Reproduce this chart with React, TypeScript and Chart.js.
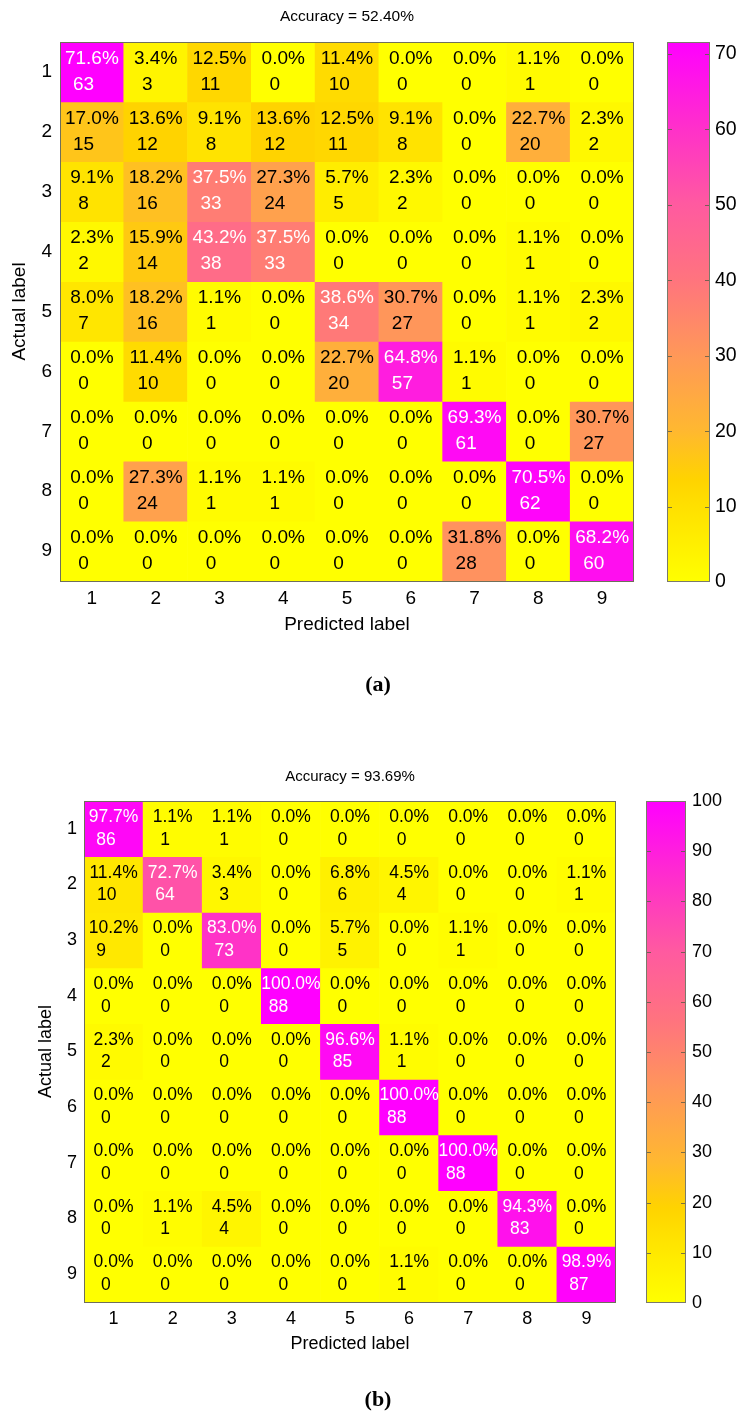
import React, { useEffect, useRef } from 'react';
import { Chart, registerables } from 'chart.js';

Chart.register(...registerables);

// ---------------- data ----------------
const classLabels = ['1', '2', '3', '4', '5', '6', '7', '8', '9'];

// rows = actual label, columns = predicted label (sample counts)
const countsA: number[][] = [
  [63, 3, 11, 0, 10, 0, 0, 1, 0],
  [15, 12, 8, 12, 11, 8, 0, 20, 2],
  [8, 16, 33, 24, 5, 2, 0, 0, 0],
  [2, 14, 38, 33, 0, 0, 0, 1, 0],
  [7, 16, 1, 0, 34, 27, 0, 1, 2],
  [0, 10, 0, 0, 20, 57, 1, 0, 0],
  [0, 0, 0, 0, 0, 0, 61, 0, 27],
  [0, 24, 1, 1, 0, 0, 0, 62, 0],
  [0, 0, 0, 0, 0, 0, 28, 0, 60],
];

const countsB: number[][] = [
  [86, 1, 1, 0, 0, 0, 0, 0, 0],
  [10, 64, 3, 0, 6, 4, 0, 0, 1],
  [9, 0, 73, 0, 5, 0, 1, 0, 0],
  [0, 0, 0, 88, 0, 0, 0, 0, 0],
  [2, 0, 0, 0, 85, 1, 0, 0, 0],
  [0, 0, 0, 0, 0, 88, 0, 0, 0],
  [0, 0, 0, 0, 0, 0, 88, 0, 0],
  [0, 1, 4, 0, 0, 0, 0, 83, 0],
  [0, 0, 0, 0, 0, 1, 0, 0, 87],
];

const titleA = 'Accuracy = 52.40%';
const titleB = 'Accuracy = 93.69%';
const colorbarTicksA = [0, 10, 20, 30, 40, 50, 60, 70];
const colorbarTicksB = [0, 10, 20, 30, 40, 50, 60, 70, 80, 90, 100];
const xTitle = 'Predicted label';
const yTitle = 'Actual label';

// ---------------- colour map ----------------
const cmapStops: [number, number[]][] = [
  [0, [255, 255, 0]],
  [0.14, [255, 224, 0]],
  [0.19, [255, 211, 0]],
  [0.28, [255, 184, 48]],
  [0.42, [255, 152, 88]],
  [0.56, [255, 116, 126]],
  [0.7, [255, 90, 160]],
  [0.84, [255, 48, 202]],
  [1, [255, 0, 255]],
];

function colormap(t: number): string {
  const v = Math.max(0, Math.min(1, t));
  for (let i = 1; i < cmapStops.length; i++) {
    const [t1, c1] = cmapStops[i];
    const [t0, c0] = cmapStops[i - 1];
    if (v <= t1) {
      const f = (v - t0) / (t1 - t0);
      const c = c0.map((x, k) => Math.round(x + (c1[k] - x) * f));
      return `rgb(${c[0]},${c[1]},${c[2]})`;
    }
  }
  return 'rgb(255,0,255)';
}

const SANS = "'Liberation Sans', Arial, sans-serif";

function toPercents(counts: number[][]) {
  return counts.map((row) => {
    const s = row.reduce((a, b) => a + b, 0);
    return row.map((v) => (v / s) * 100);
  });
}

type Geo = {
  left: number; top: number; width: number; height: number;
  padTop: number; padRight: number; yAxisW: number; xAxisH: number;
  tickFont: number; cellFont: number; pctOff: number; cntOff: number; cntShift: number;
  titleFont: number; titleY: number; axisFont: number; xTitleY: number; yTitleX: number;
  caption: string; captionX: number; captionY: number; xPad: number; yPad: number;
};

function Heatmap({ counts, title, g }: { counts: number[][]; title: string; g: Geo }) {
  const ref = useRef<HTMLCanvasElement>(null);
  useEffect(() => {
    const pcts = toPercents(counts);
    const maxPct = Math.max(...pcts.flat());
    const datasets = counts.map((row, r) => ({
      label: classLabels[r],
      data: row.map(() => [r + 0.5, r + 1.5]),
      backgroundColor: pcts[r].map((p) => colormap(p / maxPct)),
      borderWidth: 0,
      grouped: false,
      barPercentage: 1,
      categoryPercentage: 1,
    }));

    const textPlugin = {
      id: 'cellText',
      afterDatasetsDraw(chart: any) {
        const c = chart.ctx;
        const ca = chart.chartArea;
        c.save();
        c.font = `${g.cellFont}px ${SANS}`;
        c.textBaseline = 'middle';
        chart.data.datasets.forEach((_: any, r: number) => {
          const meta = chart.getDatasetMeta(r);
          meta.data.forEach((el: any, col: number) => {
            const p = pcts[r][col];
            const cy = (el.y + el.base) / 2;
            const pctText = p.toFixed(1) + '%';
            c.fillStyle = p / maxPct > 0.5 ? '#ffffff' : '#000000';
            const w = c.measureText(pctText).width;
            c.textAlign = 'left';
            c.fillText(pctText, el.x - w / 2, cy - g.pctOff);
            c.fillText(String(counts[r][col]), el.x - w / 2 + g.cntShift, cy + g.cntOff);
          });
        });
        // plot border
        c.strokeStyle = '#6f6f5a';
        c.lineWidth = 1;
        c.strokeRect(Math.round(ca.left) + 0.5, Math.round(ca.top) + 0.5, Math.round(ca.right - ca.left) - 1, Math.round(ca.bottom - ca.top));
        // title
        c.fillStyle = '#000';
        c.textAlign = 'center';
        c.font = `${g.titleFont}px ${SANS}`;
        c.fillText(title, (ca.left + ca.right) / 2, g.titleY);
        // axis titles
        c.font = `${g.axisFont}px ${SANS}`;
        c.fillText(xTitle, (ca.left + ca.right) / 2, g.xTitleY);
        c.save();
        c.translate(g.yTitleX, (ca.top + ca.bottom) / 2);
        c.rotate(-Math.PI / 2);
        c.fillText(yTitle, 0, 0);
        c.restore();
        // caption
        c.font = `bold 22px 'Liberation Serif', 'Times New Roman', serif`;
        c.fillText(g.caption, g.captionX, g.captionY);
        c.restore();
      },
    };

    const tickFont = { family: SANS, size: g.tickFont };
    const chart = new Chart(ref.current as HTMLCanvasElement, {
      type: 'bar',
      data: { labels: classLabels, datasets: datasets as any },
      options: {
        animation: false,
        responsive: false,
        devicePixelRatio: 1,
        layout: { padding: { left: 0, top: g.padTop, right: g.padRight, bottom: 0 } },
        plugins: { legend: { display: false }, tooltip: { enabled: false }, title: { display: false } },
        scales: {
          x: {
            type: 'category',
            offset: true,
            grid: { display: false, drawTicks: false },
            border: { display: false },
            ticks: { font: tickFont, color: '#000', padding: g.xPad, maxRotation: 0 },
            afterFit: (s: any) => { s.height = g.xAxisH; },
          },
          y: {
            type: 'linear',
            reverse: true,
            min: 0.5,
            max: 9.5,
            grid: { display: false, drawTicks: false },
            border: { display: false },
            afterBuildTicks: (s: any) => { s.ticks = classLabels.map((_, i) => ({ value: i + 1 })); },
            ticks: {
              font: tickFont,
              color: '#000',
              padding: g.yPad,
              callback: (v: any) => classLabels[Number(v) - 1],
            },
            afterFit: (s: any) => { s.width = g.yAxisW; },
          },
        },
      } as any,
      plugins: [textPlugin],
    });
    return () => chart.destroy();
  }, []);
  return (
    <canvas
      ref={ref}
      width={g.width}
      height={g.height}
      style={{ position: 'absolute', left: g.left, top: g.top, width: g.width, height: g.height }}
    />
  );
}

type CbGeo = {
  left: number; top: number; width: number; height: number;
  padLeft: number; padTop: number; padBottom: number; axisW: number; font: number; pad: number;
};

function Colorbar({ counts, ticksList, g }: { counts: number[][]; ticksList: number[]; g: CbGeo }) {
  const ref = useRef<HTMLCanvasElement>(null);
  useEffect(() => {
    const maxPct = Math.max(...toPercents(counts).flat());
    const tickPlugin = {
      id: 'cbTicks',
      afterDatasetsDraw(chart: any) {
        const c = chart.ctx;
        const ca = chart.chartArea;
        const ys = chart.scales.y;
        c.save();
        c.strokeStyle = 'rgba(90,90,70,0.8)';
        c.lineWidth = 1;
        ticksList.forEach((v) => {
          if (v === 0) return;
          const y = Math.round(ys.getPixelForValue(v)) + 0.5;
          c.beginPath();
          c.moveTo(ca.left, y);
          c.lineTo(ca.left + 5, y);
          c.moveTo(ca.right - 5, y);
          c.lineTo(ca.right, y);
          c.stroke();
        });
        c.strokeStyle = '#7a7a6a';
        c.strokeRect(Math.round(ca.left) + 0.5, Math.round(ca.top) + 0.5, Math.round(ca.right - ca.left) - 1, Math.round(ca.bottom - ca.top) - 1);
        c.restore();
      },
    };
    const chart = new Chart(ref.current as HTMLCanvasElement, {
      type: 'bar',
      data: {
        labels: ['scale'],
        datasets: [
          {
            data: [[0, maxPct]],
            borderWidth: 0,
            barPercentage: 1,
            categoryPercentage: 1,
            backgroundColor: (ctx: any) => {
              const ch = ctx.chart;
              const ca = ch.chartArea;
              if (!ca) return 'yellow';
              const grad = ch.ctx.createLinearGradient(0, ca.bottom, 0, ca.top);
              cmapStops.forEach(([t]) => grad.addColorStop(t, colormap(t)));
              return grad;
            },
          } as any,
        ],
      },
      options: {
        animation: false,
        responsive: false,
        devicePixelRatio: 1,
        layout: { padding: { left: g.padLeft, top: g.padTop, right: 0, bottom: g.padBottom } },
        plugins: { legend: { display: false }, tooltip: { enabled: false } },
        scales: {
          x: { display: false, offset: true },
          y: {
            type: 'linear',
            position: 'right',
            min: 0,
            max: maxPct,
            grid: { display: false, drawTicks: false },
            border: { display: false },
            afterBuildTicks: (s: any) => { s.ticks = ticksList.map((v) => ({ value: v })); },
            ticks: { font: { family: SANS, size: g.font }, color: '#000', padding: g.pad, callback: (v: any) => String(v) },
            afterFit: (s: any) => { s.width = g.axisW; },
          },
        },
      } as any,
      plugins: [tickPlugin],
    });
    return () => chart.destroy();
  }, []);
  return (
    <canvas
      ref={ref}
      width={g.width}
      height={g.height}
      style={{ position: 'absolute', left: g.left, top: g.top, width: g.width, height: g.height }}
    />
  );
}

const geoA: Geo = {
  left: 0, top: 0, width: 650, height: 720,
  padTop: 42, padRight: 16, yAxisW: 60, xAxisH: 139,
  tickFont: 19, cellFont: 19, pctOff: 13.5, cntOff: 12.5, cntShift: 8,
  titleFont: 15.5, titleY: 17, axisFont: 19, xTitleY: 625, yTitleX: 20,
  caption: '(a)', captionX: 378, captionY: 685, xPad: 6, yPad: 8,
};
const cbA: CbGeo = { left: 650, top: 0, width: 103, height: 720, padLeft: 17, padTop: 42, padBottom: 138, axisW: 43, font: 19.5, pad: 5 };

const geoB: Geo = {
  left: 0, top: 720, width: 630, height: 702,
  padTop: 81, padRight: 14, yAxisW: 84, xAxisH: 120,
  tickFont: 18, cellFont: 17.5, pctOff: 11.7, cntOff: 11, cntShift: 7.5,
  titleFont: 15, titleY: 57, axisFont: 18, xTitleY: 624, yTitleX: 46,
  caption: '(b)', captionX: 378, captionY: 680, xPad: 6, yPad: 7,
};
const cbB: CbGeo = { left: 630, top: 720, width: 123, height: 702, padLeft: 16, padTop: 81, padBottom: 119, axisW: 67, font: 18, pad: 6 };

export default function App() {
  return (
    <div style={{ position: 'absolute', left: 0, top: 0, width: 753, height: 1422, background: '#fff' }}>
      <Heatmap counts={countsA} title={titleA} g={geoA} />
      <Colorbar counts={countsA} ticksList={colorbarTicksA} g={cbA} />
      <Heatmap counts={countsB} title={titleB} g={geoB} />
      <Colorbar counts={countsB} ticksList={colorbarTicksB} g={cbB} />
    </div>
  );
}
